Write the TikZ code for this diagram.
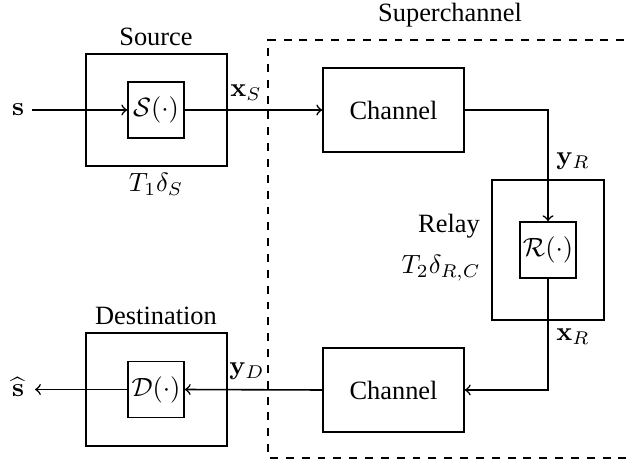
\documentclass[tikz,border=0pt]{standalone}
\usepackage{amsmath}
\usepackage[no-math]{fontspec}
\setmainfont{Liberation Serif}
\begin{document}
\begin{tikzpicture}[x=0.3788pt,y=-0.3788pt,
  box/.style={draw, line width=0.6pt, inner sep=0pt},
  bw/.style={minimum width={#1*0.3788pt}},
  bh/.style={minimum height={#1*0.3788pt}},
  arr/.style={->, line width=0.6pt},
  lbl/.style={inner sep=0pt, font=\fontsize{10}{12}\selectfont}]
\useasboundingbox (0,0) rectangle (629,461);
% superchannel
\draw[dashed, line width=0.6pt] (640,40) -- (268,40) -- (268,458) -- (640,458);
\node[lbl] (sup) at (450,15) {Superchannel};
% source
\node[box,bw=141,bh=112] (srcbox) at (156.5,110) {};
\node[box,bw=56,bh=56] (S) at (156,110) {$\mathcal{S}(\cdot)$};
\node[lbl] (srclbl) at (156,37) {Source};
\node[lbl] (t1) at (156,184) {$T_1\delta_S$};
\node[lbl] (s) at (18,110) {$\mathbf{s}$};
% channel 1
\node[box,bw=141,bh=84] (ch1) at (393.5,110) {Channel};
% relay
\node[box,bw=112,bh=140] (relaybox) at (548,250) {};
\node[box,bw=56,bh=56] (R) at (548,250) {$\mathcal{R}(\cdot)$};
\node[lbl] (relaylbl) at (449,226) {Relay};
\node[lbl] (t2) at (441,268) {$T_2\delta_{R,C}$};
% channel 2
\node[box,bw=141,bh=84] (ch2) at (393.5,390) {Channel};
% destination
\node[box,bw=141,bh=113] (dstbox) at (156.5,389.5) {};
\node[box,bw=56,bh=56] (D) at (156,389.5) {$\mathcal{D}(\cdot)$};
\node[lbl] (dstlbl) at (156,316) {Destination};
\node[lbl] (shat) at (18,387) {$\widehat{\mathbf{s}}$};
% edge labels
\node[lbl] (xs) at (246,93) {$\mathbf{x}_S$};
\node[lbl] (yr) at (573,161) {$\mathbf{y}_R$};
\node[lbl] (xr) at (573,337) {$\mathbf{x}_R$};
\node[lbl] (yd) at (247,371) {$\mathbf{y}_D$};
% connectors
\coordinate (sin) at (32,110);
\coordinate (sout) at (35,389.5);
\draw[arr] (sin) -- (S.west);
\draw[arr] (S.east) -- (ch1.west);
\draw[arr] (ch1.east) -| (R.north);
\draw[arr] (R.south) |- (ch2.east);
\draw[arr] (ch2.west) -- (D.east);
\draw[arr] (D.west) -- (sout);
\end{tikzpicture}
\end{document}
